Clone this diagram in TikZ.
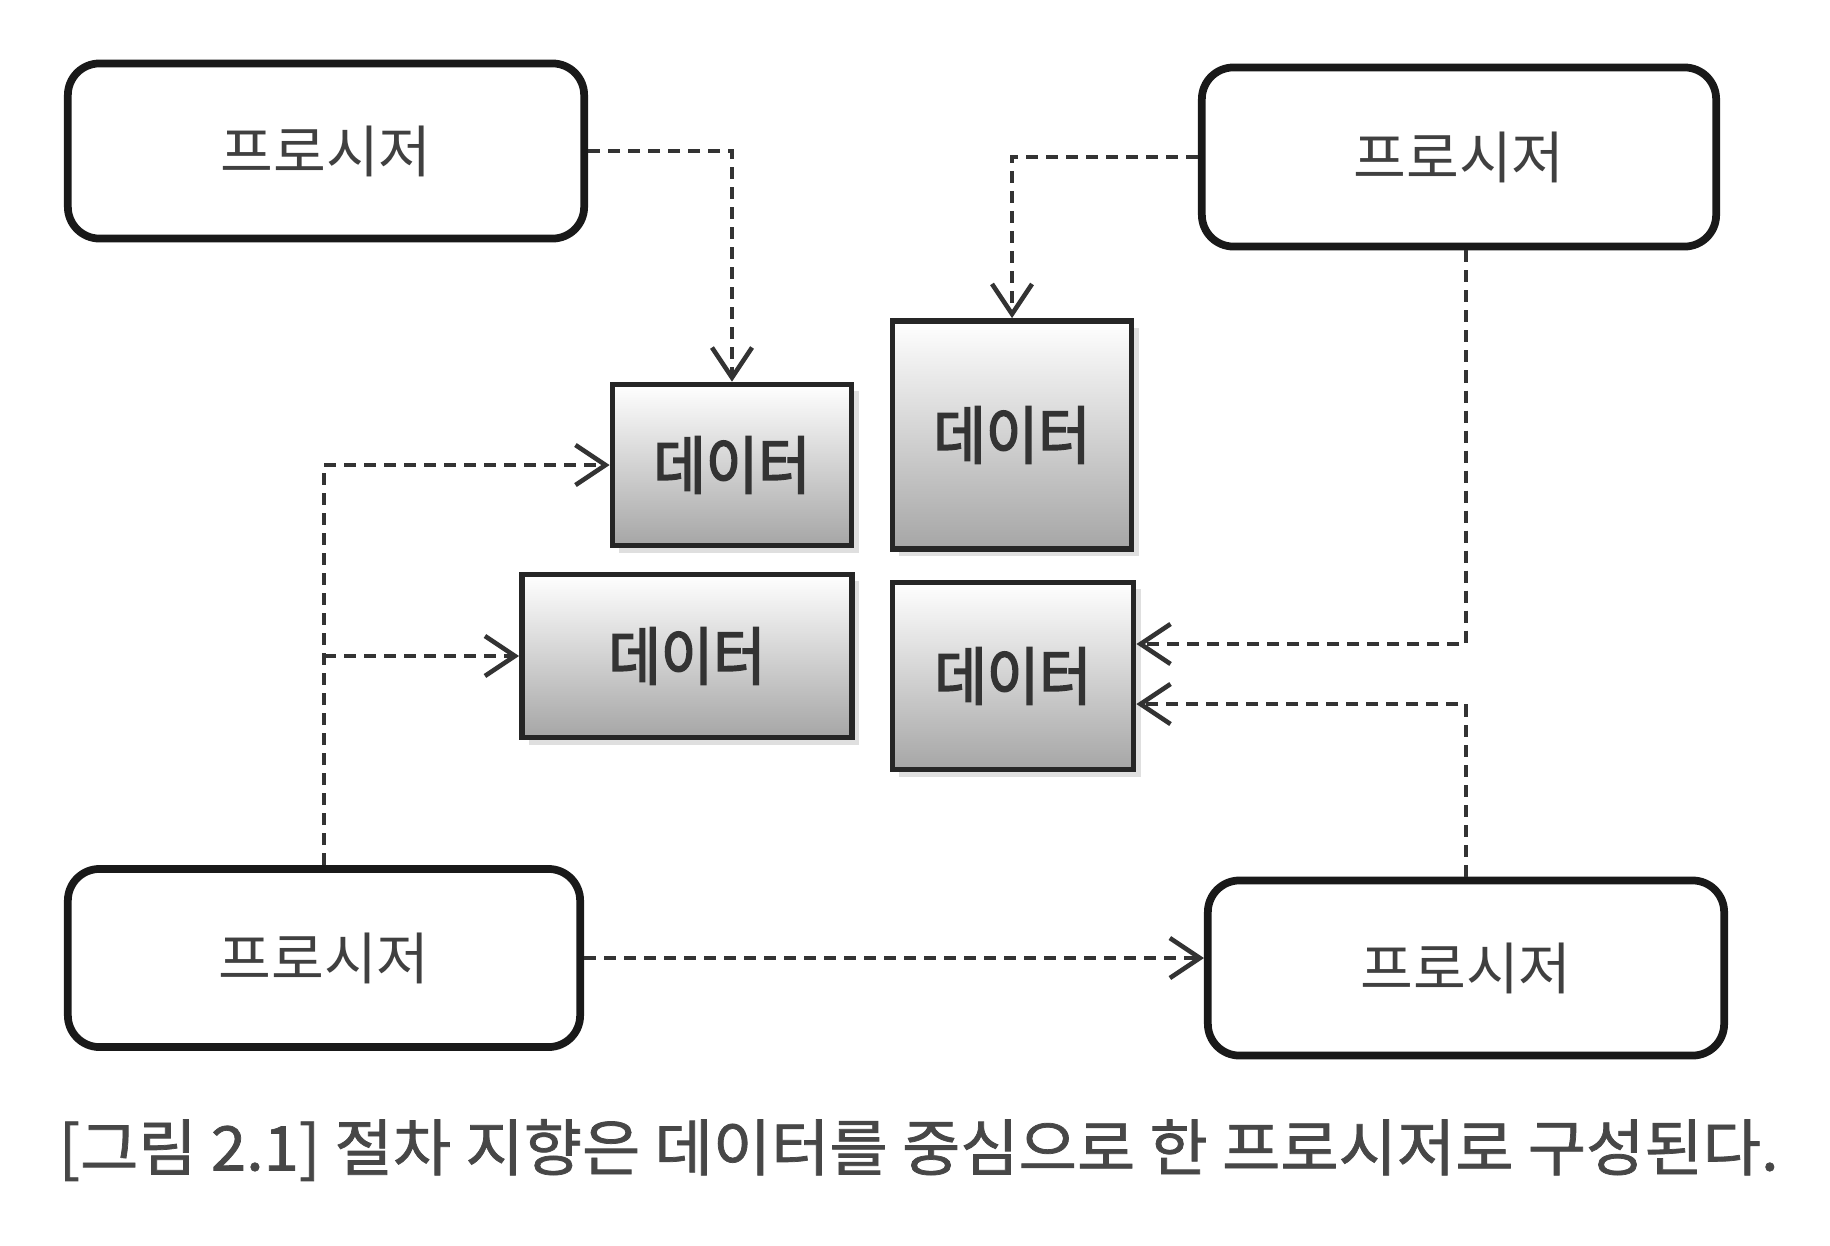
\documentclass[tikz,border=0pt]{standalone}
\usepackage{fontspec}
\setmainfont{Noto Sans CJK KR}
\newfontfamily\prfont{Noto Sans CJK KR}[FakeStretch=1.02]
\newfontfamily\dtfont{Noto Sans CJK KR}[FakeStretch=0.9,FakeBold=2.5]
\newfontfamily\capfont{Noto Sans CJK KR}[FakeStretch=1.03,FakeBold=1.2]
\usetikzlibrary{arrows.meta,positioning,shadows}

\begin{document}
\begin{tikzpicture}[x=0.01cm, y=-0.01cm, >={Straight Barb[length=3mm,width=4mm]},
  proc/.style={draw=black!90, line width=2.2pt, rounded corners=9pt, inner sep=0pt, font=\prfont\fontsize{16}{18}\selectfont, text=black!75},
  data/.style={draw=black!85, line width=1.6pt, inner sep=0pt, top color=white, bottom color=black!35, drop shadow={opacity=0.25, shadow xshift=2pt, shadow yshift=-2pt}, font=\dtfont\fontsize{18}{20}\selectfont, text=black!80},
  flow/.style={->, dash pattern=on 1.2mm off 0.8mm, line width=1.3pt, draw=black!80}]
\useasboundingbox[fill=white] (0,0) rectangle (1830,1245);
% procedures
\node[proc, minimum width=5.16cm, minimum height=1.75cm] (p1) at (326,151) {프로시저};
\node[proc, minimum width=5.14cm, minimum height=1.79cm] (p2) at (1459,157) {프로시저};
\node[proc, minimum width=5.12cm, minimum height=1.78cm] (p3) at (324,958) {프로시저};
\node[proc, minimum width=5.16cm, minimum height=1.75cm] (p4) at (1466,968) {프로시저};
% data
\node[data, minimum width=2.39cm, minimum height=1.61cm] (d1) at (732,465) {데이터};
\node[data, minimum width=2.39cm, minimum height=2.28cm] (d2) at (1012,435) {데이터};
\node[data, minimum width=3.30cm, minimum height=1.63cm] (d3) at (687,656) {데이터};
\node[data, minimum width=2.41cm, minimum height=1.87cm] (d4) at (1013,676) {데이터};
% connectors
\draw[flow] (p1.east) -| (d1.north);
\draw[flow] (p2.west) -| (d2.north);
\draw[flow] (p2.south -| p4.north) |- ([yshift=0.32cm]d4.east);
\draw[flow] (p4.north) |- ([yshift=-0.28cm]d4.east);
\draw[flow] (p3.north) |- (d1.west);
\draw[flow] (p3.north |- d3.west) -- (d3.west);
\draw[flow] (p3.east) -- (p4.west |- p3.east);
% caption
\node[anchor=west, inner sep=0pt, text=black!72, font=\capfont\fontsize{17.5}{20}\selectfont] (cap) at (58,1150) {[그림 2.1] 절차 지향은 데이터를 중심으로 한 프로시저로 구성된다.};
\end{tikzpicture}
\end{document}
